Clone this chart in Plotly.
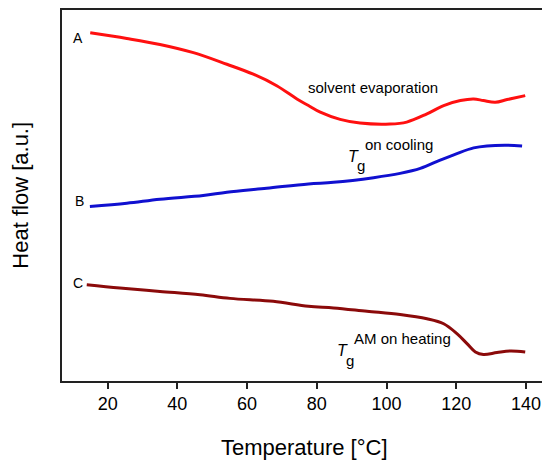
import plotly.graph_objects as go

# DSC traces, heat flow in arbitrary units
temp_a = [15, 25.5, 35, 44.6, 54.2, 61.8, 68.5, 74.3, 77.6, 81, 86.7, 92.4, 101,
          105.8, 111.6, 116.4, 121.2, 125, 127.8, 131.2, 134.6, 139.8]
flow_a = [351, 345.3, 339.3, 331, 319.3, 309.3, 297.7, 284.3, 277.7, 271, 263.7, 260,
          259, 261, 269.3, 277.7, 282.7, 284.3, 282.7, 281, 283.7, 287.7]

temp_b = [14.9, 25.5, 35, 47.4, 54.2, 65.6, 77.6, 84.8, 96.3, 103.9, 109.7, 115.4,
          120.2, 125, 128.8, 134.6, 138.9]
flow_b = [176, 179.3, 183.3, 187, 190.3, 194.3, 198.7, 200.3, 205, 209.3, 214.3,
          222.7, 229.3, 235, 237, 237.7, 237]

temp_c = [14, 23.5, 35, 46.5, 55.1, 67.5, 77.6, 84.8, 94.4, 103.9, 111.6, 116.4,
          120.2, 123.1, 125.5, 127.8, 131.7, 135.5, 139.8]
flow_c = [97, 93.7, 90.3, 87, 83.3, 80.3, 75.3, 73.7, 70.3, 67, 62.7, 57.7, 47.7,
          37.7, 29.3, 26.7, 28.7, 30.3, 29.3]

x_ticks = [20, 40, 60, 80, 100, 120, 140]

FONT = "Arial, Liberation Sans, sans-serif"

fig = go.Figure()
fig.add_trace(go.Scatter(x=temp_a, y=flow_a, mode="lines", line_shape="spline",
                         line=dict(color="#ff1010", width=3)))
fig.add_trace(go.Scatter(x=temp_b, y=flow_b, mode="lines", line_shape="spline",
                         line=dict(color="#1010d0", width=3)))
fig.add_trace(go.Scatter(x=temp_c, y=flow_c, mode="lines", line_shape="spline",
                         line=dict(color="#8b0a0a", width=3)))

def label(x, y, text, size=15, **kw):
    fig.add_annotation(x=x, y=y, text=text, showarrow=False, xanchor="center",
                       font=dict(family=FONT, size=size, color="black"), **kw)

label(11.6, 346, "A", 14)
label(12.0, 181, "B", 14)
label(11.6, 98.3, "C", 14)
label(96.2, 296, "solvent evaporation")
label(90.4, 226, "<i>T</i>", 16)
label(92.6, 217, "g")
label(103.7, 238, "on cooling")
label(87.3, 31, "<i>T</i>", 16)
label(89.6, 21, "g")
label(104.6, 43.2, "AM on heating")

# axis titles
fig.add_annotation(xref="paper", yref="paper", x=-0.087, y=0.5, text="Heat flow [a.u.]",
                   textangle=-90, showarrow=False, xanchor="center", yanchor="middle",
                   font=dict(family=FONT, size=22, color="black"))
fig.add_annotation(xref="paper", yref="paper", x=0.505, y=-0.18, text="Temperature [°C]",
                   showarrow=False, xanchor="center", yanchor="middle",
                   font=dict(family=FONT, size=22, color="black"))

# page body adds an 8 px offset, so the figure is sized to fit inside it
fig.update_layout(
    width=542, height=458,
    margin=dict(l=54, r=7, t=0, b=85),
    paper_bgcolor="white", plot_bgcolor="white",
    showlegend=False,
    font=dict(family=FONT, color="black"),
)
fig.update_xaxes(range=[6.9, 144.9], tickvals=x_ticks, ticks="outside", ticklen=6,
                 tickwidth=1.5, tickcolor="#222", showline=True, linecolor="#222",
                 linewidth=1.5, mirror=True, showgrid=False, zeroline=False,
                 tickfont=dict(size=18, family=FONT, color="black"))
fig.update_yaxes(range=[0, 374], showticklabels=False, ticks="", showline=True,
                 linecolor="#222", linewidth=1.5, mirror=True, showgrid=False,
                 zeroline=False)

fig.write_html("out.html")
